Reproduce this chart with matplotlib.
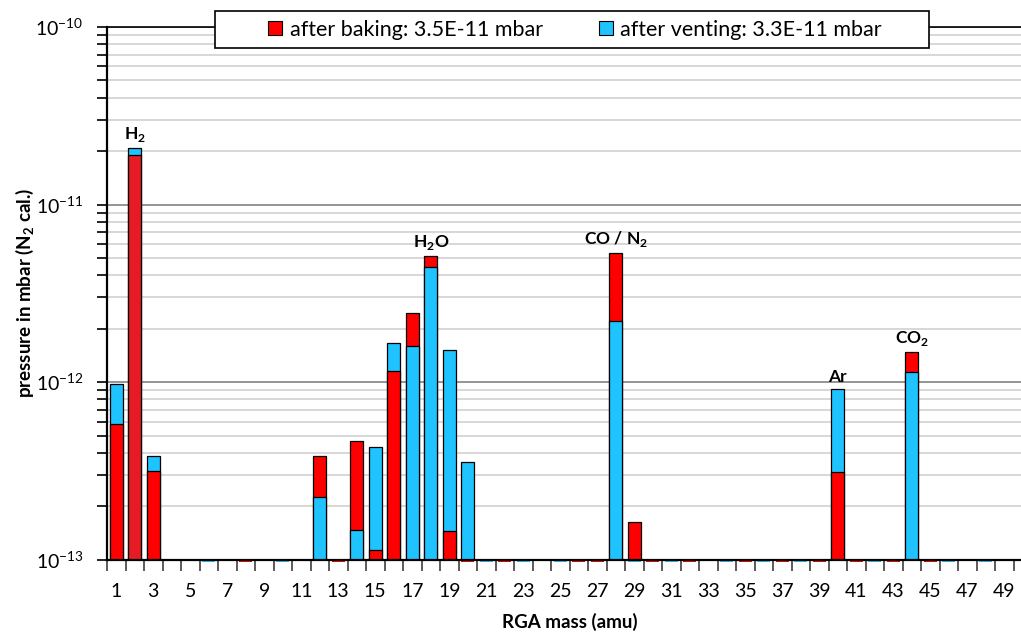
import numpy as np
import matplotlib
matplotlib.use("agg")
import matplotlib.pyplot as plt
from matplotlib.patches import Rectangle
from matplotlib.ticker import FixedLocator, NullFormatter, LogFormatterSciNotation

plt.rcParams['font.family'] = ['Lato', 'DejaVu Sans']
plt.rcParams['mathtext.fontset'] = 'custom'
plt.rcParams['mathtext.rm'] = 'Lato'
plt.rcParams['mathtext.bf'] = 'Lato:bold'

# RGA masses 1..50 (amu)
masses = np.arange(1, 51)

# 0 = no signal, 9.7e-14 = signal just below the axis floor
baking = [5.8e-13, 1.9e-11, 3.15e-13, 0, 0, 0, 0, 9.7e-14, 0, 0,
          0, 3.83e-13, 9.7e-14, 4.66e-13, 1.13e-13, 1.16e-12, 2.46e-12, 5.14e-12, 1.45e-13, 9.7e-14,
          0, 9.7e-14, 0, 0, 0, 9.7e-14, 9.7e-14, 5.32e-12, 1.63e-13, 9.7e-14,
          0, 9.7e-14, 0, 0, 9.7e-14, 0, 9.7e-14, 0, 9.7e-14, 3.11e-13,
          9.7e-14, 0, 9.7e-14, 1.47e-12, 9.7e-14, 0, 0, 0, 0, 0]
venting = [9.7e-13, 2.09e-11, 3.83e-13, 0, 0, 9.7e-14, 0, 0, 0, 9.7e-14,
           0, 2.26e-13, 0, 1.47e-13, 4.3e-13, 1.66e-12, 1.59e-12, 4.47e-12, 1.52e-12, 3.54e-13,
           9.7e-14, 0, 9.7e-14, 0, 9.7e-14, 0, 0, 2.2e-12, 9.7e-14, 0,
           9.7e-14, 0, 0, 9.7e-14, 0, 9.7e-14, 0, 9.7e-14, 0, 9.1e-13,
           0, 9.7e-14, 0, 1.14e-12, 0, 9.7e-14, 0, 9.7e-14, 0, 0]

series_labels = ["after baking: 3.5E-11 mbar", "after venting: 3.3E-11 mbar"]
peak_masses = [2, 18, 28, 40, 44]
peak_labels = [r"H$_\mathbf{2}$", r"H$_\mathbf{2}$O", r"CO / N$_\mathbf{2}$", "Ar", r"CO$_\mathbf{2}$"]
xtick_labels = [str(m) for m in range(1, 50, 2)]
ytick_values = [1e-13, 1e-12, 1e-11, 1e-10]

RED = '#FF0000'
RED_DARK = '#E61B23'   # mass 2 bar is a slightly darker red
BLUE = '#1FC3FF'
FLOOR = 1e-13
W = 0.68

baking = np.array(baking)
venting = np.array(venting)
red_colors = np.array([RED_DARK if m == 2 else RED for m in masses])
blue_colors = np.array([BLUE] * len(masses))

fig = plt.figure(figsize=(10.21, 6.35), dpi=100)
ax = fig.add_axes([107/1021, 75.3/635, 925/1021, 532.7/635])
ax.set_yscale('log')
ax.set_ylim(FLOOR, 1e-10)
ax.set_xlim(0.5, 50.5)


def draw(vals, colors, front):
    big = np.maximum(baking, venting)
    sel = (vals > FLOOR) & ((vals < big) if front else (vals >= big))
    z = 3 if front else 2
    ax.bar(masses[sel], vals[sel] - FLOOR, bottom=FLOOR, width=W, color=colors[sel],
           edgecolor='black', linewidth=0.9, zorder=z)
    tiny = (vals > 0) & (vals <= FLOOR)
    ax.bar(masses[tiny], vals[tiny] - FLOOR, bottom=FLOOR, width=W, color=colors[tiny],
           linewidth=0, zorder=1, clip_on=False)


draw(baking, red_colors, False)
draw(venting, blue_colors, False)
draw(baking, red_colors, True)
draw(venting, blue_colors, True)

# peak labels
for m, lab in zip(peak_masses, peak_labels):
    top = max(baking[m - 1], venting[m - 1])
    ax.annotate(lab, (m, top), xytext=(0, 3), textcoords='offset points',
                ha='center', va='bottom', fontsize=12.5, fontweight='bold')

# grid
minor_vals = [k * d for d in [1e-13, 1e-12, 1e-11] for k in range(2, 10)]
ax.yaxis.set_major_locator(FixedLocator(ytick_values))
ax.yaxis.set_major_formatter(LogFormatterSciNotation())
ax.yaxis.set_minor_locator(FixedLocator(minor_vals))
ax.yaxis.set_minor_formatter(NullFormatter())
ax.grid(True, which='major', axis='y', color='#8c8c8c', linewidth=1.3, zorder=0)
ax.grid(True, which='minor', axis='y', color='#d4d4d4', linewidth=1.3, zorder=0)
ax.set_axisbelow(True)
ax.tick_params(axis='y', which='both', direction='out', length=7, width=1.2,
               colors='black', labelsize=14, pad=10)

# x ticks: labels at odd masses, tick marks between categories
ax.xaxis.set_major_locator(FixedLocator(range(1, 50, 2)))
ax.set_xticklabels(xtick_labels)
ax.xaxis.set_minor_locator(FixedLocator(np.arange(0.5, 51, 1)))
ax.xaxis.set_minor_formatter(NullFormatter())
ax.tick_params(axis='x', which='major', length=0, labelsize=14, pad=17)
ax.tick_params(axis='x', which='minor', length=8, width=1.2, color='#404040')

for s in ['left', 'bottom']:
    ax.spines[s].set_linewidth(1.6)
    ax.spines[s].set_zorder(4)
ax.spines['top'].set_linewidth(1.2)
ax.spines['right'].set_visible(False)

ax.set_xlabel("RGA mass (amu)", fontsize=13.5, fontweight='bold', labelpad=9)
ax.set_ylabel(r"pressure in mbar (N$_\mathbf{2}$ cal.)", fontsize=13.5,
              fontweight='bold')
ax.yaxis.set_label_coords(-0.077, 0.5)

# legend box
fig.patches.append(Rectangle((215/1021, 1 - 48/635), 714/1021, 37/635,
                             transform=fig.transFigure, facecolor='white',
                             edgecolor='black', linewidth=1.2, zorder=5))
handles = [Rectangle((0, 0), 1, 1, facecolor=RED, edgecolor='black', linewidth=0.8),
           Rectangle((0, 0), 1, 1, facecolor=BLUE, edgecolor='black', linewidth=0.8)]
leg = fig.legend(handles, series_labels, loc='center', ncol=2,
                 bbox_to_anchor=(575/1021, 1 - 29.5/635), frameon=False,
                 fontsize=15.5, handlelength=0.65, handleheight=0.65,
                 handletextpad=0.35, columnspacing=2.6)
leg.set_zorder(6)

plt.savefig("out.png", dpi=100)
